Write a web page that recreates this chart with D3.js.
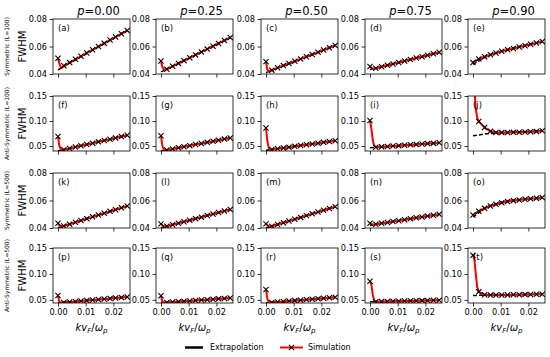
<!DOCTYPE html>
<html>
<head>
<meta charset="utf-8">
<script src="https://cdn.jsdelivr.net/npm/d3@7"></script>
<style>
body { margin: 0; background: #fff; }
text { font-family: "DejaVu Sans", sans-serif; }
</style>
</head>
<body>
<div id="chart"></div>
<script>
// colonnes : valeur de p, lignes : type de structure
const pValues = ["0.00", "0.25", "0.50", "0.75", "0.90"];
const rowLabels = ["Symmetric (L=100)", "Anti-Symmetric (L=100)", "Symmetric (L=500)", "Anti-Symmetric (L=500)"];
const letters = "abcdefghijklmnopqrst".split("");

// abscisses kv_F/w_p de la simulation (les points 1..3 n'ont pas de marqueur)
const simX = [0, 0.0005, 0.001, 0.0015, 0.0021, 0.0042, 0.0063, 0.0083, 0.0104, 0.0125, 0.0146, 0.0167, 0.0188, 0.0208, 0.0229, 0.025];
// abscisses de l'extrapolation
const extX = [0, 0.005, 0.01, 0.015, 0.02, 0.025];

const xTicks = [0, 0.01, 0.02];
const yDomains = [[0.04, 0.08], [0.04, 0.15], [0.04, 0.08], [0.044, 0.15]];
const yTicks = [[0.04, 0.06, 0.08], [0.05, 0.10, 0.15], [0.04, 0.06, 0.08], [0.05, 0.10, 0.15]];

// FWHM simulée, une ligne de la figure par tableau
const simSym100 = [
  [0.0515, 0.0475, 0.0450, 0.0447, 0.0460, 0.0483, 0.0507, 0.0529, 0.0553, 0.0576, 0.0600, 0.0623, 0.0647, 0.0669, 0.0693, 0.0716],
  [0.0495, 0.0450, 0.0435, 0.0433, 0.0435, 0.0456, 0.0477, 0.0497, 0.0518, 0.0539, 0.0560, 0.0581, 0.0602, 0.0622, 0.0644, 0.0665],
  [0.0490, 0.0430, 0.0422, 0.0424, 0.0428, 0.0445, 0.0461, 0.0476, 0.0493, 0.0509, 0.0526, 0.0542, 0.0559, 0.0575, 0.0591, 0.0608],
  [0.0455, 0.0445, 0.0440, 0.0440, 0.0442, 0.0453, 0.0463, 0.0473, 0.0484, 0.0494, 0.0505, 0.0516, 0.0526, 0.0536, 0.0547, 0.0558],
  [0.0483, 0.0490, 0.0497, 0.0503, 0.0510, 0.0526, 0.0540, 0.0553, 0.0565, 0.0576, 0.0586, 0.0596, 0.0606, 0.0616, 0.0626, 0.0636]
];
const simAnti100 = [
  [0.0690, 0.0500, 0.0435, 0.0425, 0.0425, 0.0452, 0.0478, 0.0503, 0.0530, 0.0557, 0.0583, 0.0610, 0.0636, 0.0662, 0.0688, 0.0715],
  [0.0705, 0.0500, 0.0430, 0.0420, 0.0420, 0.0442, 0.0464, 0.0485, 0.0507, 0.0529, 0.0551, 0.0573, 0.0595, 0.0616, 0.0638, 0.0660],
  [0.0860, 0.0600, 0.0460, 0.0435, 0.0430, 0.0446, 0.0462, 0.0477, 0.0493, 0.0509, 0.0525, 0.0541, 0.0557, 0.0573, 0.0589, 0.0605],
  [0.1010, 0.0850, 0.0620, 0.0510, 0.0475, 0.0483, 0.0491, 0.0499, 0.0507, 0.0516, 0.0524, 0.0532, 0.0540, 0.0548, 0.0557, 0.0565],
  [0.3000, 0.1650, 0.1250, 0.1070, 0.0990, 0.0870, 0.0795, 0.0772, 0.0768, 0.0770, 0.0773, 0.0777, 0.0781, 0.0786, 0.0792, 0.0805]
];
const simSym500 = [
  [0.0435, 0.0420, 0.0415, 0.0414, 0.0415, 0.0428, 0.0442, 0.0454, 0.0468, 0.0481, 0.0494, 0.0508, 0.0521, 0.0533, 0.0547, 0.0560],
  [0.0430, 0.0420, 0.0413, 0.0412, 0.0413, 0.0424, 0.0435, 0.0446, 0.0457, 0.0468, 0.0479, 0.0491, 0.0502, 0.0513, 0.0524, 0.0535],
  [0.0430, 0.0420, 0.0413, 0.0412, 0.0413, 0.0426, 0.0439, 0.0451, 0.0464, 0.0477, 0.0490, 0.0503, 0.0516, 0.0529, 0.0542, 0.0555],
  [0.0435, 0.0430, 0.0427, 0.0426, 0.0427, 0.0434, 0.0440, 0.0447, 0.0453, 0.0460, 0.0467, 0.0474, 0.0480, 0.0487, 0.0493, 0.0500],
  [0.0495, 0.0500, 0.0508, 0.0515, 0.0522, 0.0543, 0.0560, 0.0572, 0.0583, 0.0592, 0.0599, 0.0604, 0.0609, 0.0613, 0.0617, 0.0621]
];
const simAnti500 = [
  [0.0585, 0.0460, 0.0452, 0.0450, 0.0450, 0.0460, 0.0469, 0.0478, 0.0488, 0.0498, 0.0507, 0.0517, 0.0527, 0.0536, 0.0545, 0.0555],
  [0.0580, 0.0460, 0.0452, 0.0450, 0.0450, 0.0458, 0.0466, 0.0473, 0.0481, 0.0489, 0.0497, 0.0504, 0.0512, 0.0520, 0.0527, 0.0535],
  [0.0700, 0.0520, 0.0455, 0.0450, 0.0450, 0.0459, 0.0468, 0.0477, 0.0486, 0.0495, 0.0505, 0.0514, 0.0523, 0.0532, 0.0541, 0.0550],
  [0.0860, 0.0800, 0.0600, 0.0490, 0.0465, 0.0468, 0.0470, 0.0473, 0.0476, 0.0478, 0.0481, 0.0484, 0.0486, 0.0489, 0.0492, 0.0495],
  [0.1360, 0.1280, 0.1000, 0.0750, 0.0655, 0.0598, 0.0592, 0.0592, 0.0594, 0.0596, 0.0598, 0.0600, 0.0602, 0.0604, 0.0607, 0.0610]
];

// extrapolation (tirets noirs)
const extSym100 = [
  [0.0430, 0.0488, 0.0545, 0.0603, 0.0660, 0.0718],
  [0.0415, 0.0465, 0.0515, 0.0565, 0.0615, 0.0665],
  [0.0410, 0.0450, 0.0489, 0.0529, 0.0568, 0.0608],
  [0.0432, 0.0457, 0.0483, 0.0508, 0.0533, 0.0558],
  [0.0470, 0.0528, 0.0565, 0.0592, 0.0615, 0.0636]
];
const extAnti100 = [
  [0.0400, 0.0463, 0.0526, 0.0589, 0.0652, 0.0715],
  [0.0398, 0.0451, 0.0503, 0.0556, 0.0608, 0.0660],
  [0.0415, 0.0453, 0.0491, 0.0529, 0.0567, 0.0605],
  [0.0466, 0.0486, 0.0505, 0.0525, 0.0545, 0.0565],
  [0.0705, 0.0745, 0.0765, 0.0778, 0.0790, 0.0805]
];
const extSym500 = [
  [0.0402, 0.0434, 0.0465, 0.0497, 0.0528, 0.0560],
  [0.0402, 0.0429, 0.0455, 0.0482, 0.0508, 0.0535],
  [0.0400, 0.0431, 0.0462, 0.0493, 0.0524, 0.0555],
  [0.0420, 0.0436, 0.0452, 0.0468, 0.0484, 0.0500],
  [0.0480, 0.0555, 0.0588, 0.0604, 0.0613, 0.0621]
];
const extAnti500 = [
  [0.0440, 0.0463, 0.0486, 0.0509, 0.0532, 0.0555],
  [0.0443, 0.0461, 0.0480, 0.0498, 0.0517, 0.0535],
  [0.0441, 0.0463, 0.0485, 0.0506, 0.0528, 0.0550],
  [0.0462, 0.0469, 0.0475, 0.0482, 0.0488, 0.0495],
  [0.0585, 0.0590, 0.0595, 0.0600, 0.0605, 0.0610]
];

const simRows = [simSym100, simAnti100, simSym500, simAnti500];
const extRows = [extSym100, extAnti100, extSym500, extAnti500];

// mise en page
const width = 550, height = 357;
const colLeft = [53, 156, 261, 365, 468];
const rowTop = [19, 96, 173, 248];
const panelW = 77, panelH = 55;

const svg = d3.select("#chart").append("svg")
    .attr("width", width)
    .attr("height", height)
    .style("background", "white");

const x = d3.scaleLinear().domain([-0.0018, 0.026]).range([0, panelW]);

// croix "x" de matplotlib
function cross(s) {
    return `M${-s},${-s}L${s},${s}M${-s},${s}L${s},${-s}`;
}

rowTop.forEach((top, r) => {
    const y = d3.scaleLinear().domain(yDomains[r]).range([panelH, 0]);

    // libellés de ligne
    const cy = top + panelH / 2;
    svg.append("text")
        .attr("transform", `translate(9,${cy}) rotate(-90)`)
        .attr("text-anchor", "middle")
        .style("font-size", "6px")
        .text(rowLabels[r]);
    svg.append("text")
        .attr("transform", `translate(26,${cy}) rotate(-90)`)
        .attr("text-anchor", "middle")
        .style("font-size", "10px")
        .text("FWHM");

    colLeft.forEach((left, c) => {
        const k = r * 5 + c;
        const g = svg.append("g").attr("transform", `translate(${left},${top})`);
        const clipId = "clip" + k;
        g.append("clipPath").attr("id", clipId)
            .append("rect").attr("width", panelW).attr("height", panelH);

        const plot = g.append("g").attr("clip-path", `url(#${clipId})`);

        // extrapolation
        const ext = extRows[r][c];
        plot.append("path")
            .datum(extX.map((v, i) => [v, ext[i]]))
            .attr("d", d3.line().x(d => x(d[0])).y(d => y(d[1])))
            .attr("fill", "none")
            .attr("stroke", "black")
            .attr("stroke-width", 1.5)
            .attr("stroke-dasharray", "4,2");

        // simulation
        const sim = simRows[r][c];
        const pts = simX.map((v, i) => [v, sim[i]]);
        plot.append("path")
            .datum(pts)
            .attr("d", d3.line().x(d => x(d[0])).y(d => y(d[1])))
            .attr("fill", "none")
            .attr("stroke", "#ff0000")
            .attr("stroke-width", 2);

        plot.selectAll("path.mk")
            .data(pts.filter((d, i) => i === 0 || i >= 4))
            .enter().append("path")
            .attr("class", "mk")
            .attr("transform", d => `translate(${x(d[0])},${y(d[1])})`)
            .attr("d", cross(2.6))
            .attr("stroke", "black")
            .attr("stroke-width", 1.1);

        // axes
        const ya = g.append("g")
            .call(d3.axisLeft(y).tickValues(yTicks[r]).tickFormat(d3.format(".2f")).tickSize(3.5).tickPadding(2.5));
        ya.select(".domain").remove();
        ya.selectAll("text").style("font-size", "8.2px").style("font-family", "DejaVu Sans");
        ya.selectAll("line").attr("stroke-width", 0.8);

        const xa = g.append("g")
            .attr("transform", `translate(0,${panelH})`)
            .call(d3.axisBottom(x).tickValues(xTicks).tickFormat(r === 3 ? d3.format(".2f") : "").tickSize(3.5).tickPadding(2.5));
        xa.select(".domain").remove();
        xa.selectAll("text").style("font-size", "8.2px").style("font-family", "DejaVu Sans");
        xa.selectAll("line").attr("stroke-width", 0.8);

        // cadre
        g.append("rect")
            .attr("width", panelW)
            .attr("height", panelH)
            .attr("fill", "none")
            .attr("stroke", "black")
            .attr("stroke-width", 0.8);

        // lettre du panneau
        g.append("text")
            .attr("x", 5)
            .attr("y", 12)
            .style("font-size", "8.5px")
            .text("(" + letters[k] + ")");

        // titre de colonne
        if (r === 0) {
            const t = svg.append("text")
                .attr("x", left + panelW / 2 + 7)
                .attr("y", 15)
                .attr("text-anchor", "middle")
                .style("font-size", "11.5px");
            t.append("tspan").style("font-style", "italic").text("p");
            t.append("tspan").text("=" + pValues[c]);
        }

        // label de l'axe x
        if (r === 3) {
            const t = svg.append("text")
                .attr("x", left + panelW / 2)
                .attr("y", 331)
                .attr("text-anchor", "middle")
                .style("font-size", "10px")
                .style("font-style", "italic");
            t.append("tspan").text("kv");
            t.append("tspan").attr("dy", 2).style("font-size", "7px").text("F");
            t.append("tspan").attr("dy", -2).style("font-style", "normal").text("/");
            t.append("tspan").text("ω");
            t.append("tspan").attr("dy", 2).style("font-size", "7px").text("p");
        }
    });
});

// légende
const legY = 347.5;
const leg = svg.append("g");
leg.append("line")
    .attr("x1", 185).attr("x2", 203)
    .attr("y1", legY).attr("y2", legY)
    .attr("stroke", "black").attr("stroke-width", 2.5);
leg.append("text")
    .attr("x", 210).attr("y", legY)
    .attr("dy", "0.35em")
    .style("font-size", "8px")
    .text("Extrapolation");
leg.append("line")
    .attr("x1", 280).attr("x2", 303)
    .attr("y1", legY).attr("y2", legY)
    .attr("stroke", "#ff0000").attr("stroke-width", 2);
leg.append("path")
    .attr("transform", `translate(291.5,${legY})`)
    .attr("d", cross(2.6))
    .attr("stroke", "black").attr("stroke-width", 1.1);
leg.append("text")
    .attr("x", 308).attr("y", legY)
    .attr("dy", "0.35em")
    .style("font-size", "8px")
    .text("Simulation");
</script>
</body>
</html>
